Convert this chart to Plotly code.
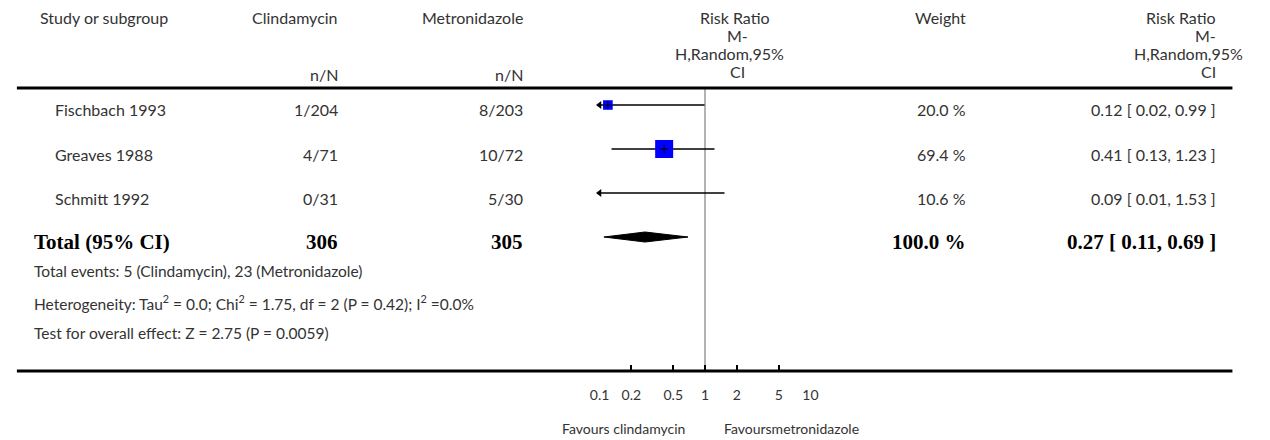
import math
import plotly.graph_objects as go

# ---------------- data ----------------
studies = ["Fischbach 1993", "Greaves 1988", "Schmitt 1992"]
clinda_nN = ["1/204", "4/71", "0/31"]
metro_nN = ["8/203", "10/72", "5/30"]
rr = [0.12, 0.41, 0.09]
rr_lo = [0.02, 0.13, 0.01]
rr_hi = [0.99, 1.23, 1.53]
weights = [20.0, 69.4, 10.6]
total_label = "Total (95% CI)"
total_clinda = "306"
total_metro = "305"
total_weight = 100.0
total_rr = 0.27
total_lo = 0.11
total_hi = 0.69
footnotes = [
    "Total events: 5 (Clindamycin), 23 (Metronidazole)",
    "Heterogeneity: Tau<sup>2</sup> = 0.0; Chi<sup>2</sup> = 1.75, df = 2 (P = 0.42); I<sup>2</sup> =0.0%",
    "Test for overall effect: Z = 2.75 (P = 0.0059)",
]
tick_vals = [0.1, 0.2, 0.5, 1, 2, 5, 10]
tick_text = ["0.1", "0.2", "0.5", "1", "2", "5", "10"]
axis_min, axis_max = 0.1, 10
favours_left = "Favours clindamycin"
favours_right = "Favoursmetronidazole"

# ---------------- layout constants ----------------
W, H = 1270, 440
TOP_RULE, BOT_RULE = 88, 371
ROW0, PITCH = 105, 44
SANS = "Lato"
SERIF = "Liberation Serif"
TXT = "#333333"


def py(px):
    return 1 - px / H


def px_x(px):
    return px / W


rows = list(range(len(studies)))
total_row = len(studies)
y_top = (TOP_RULE - ROW0) / PITCH
y_bot = (BOT_RULE - ROW0) / PITCH

fig = go.Figure()

# CI lines (clipped to axis by plot area)
lx, ly = [], []
for i in rows:
    lx += [rr_lo[i], rr_hi[i], None]
    ly += [i, i, None]
fig.add_trace(go.Scatter(x=lx, y=ly, mode="lines", line=dict(color="black", width=1.5),
                         hoverinfo="skip", showlegend=False))

# arrows where CI exceeds axis
ax_, ay_ = [], []
for i in rows:
    if rr_lo[i] < axis_min:
        ax_.append(axis_min)
        ay_.append(i)
fig.add_trace(go.Scatter(x=ax_, y=ay_, mode="markers", cliponaxis=False,
                         marker=dict(symbol="triangle-left", size=7, color="black"),
                         hoverinfo="skip", showlegend=False))

# weighted squares
fig.add_trace(go.Scatter(x=rr, y=rows, mode="markers",
                         marker=dict(symbol="square", color="#0000FF", opacity=1,
                                     size=[2.16 * math.sqrt(w) for w in weights],
                                     line=dict(width=0)),
                         hoverinfo="skip", showlegend=False))
fig.add_trace(go.Scatter(x=rr, y=rows, mode="markers",
                         marker=dict(symbol="cross-thin-open", size=6, color="black",
                                     line=dict(color="black", width=1)),
                         hoverinfo="skip", showlegend=False))

# pooled diamond
dh = 5 / PITCH
fig.add_trace(go.Scatter(x=[total_lo, total_rr, total_hi, total_rr, total_lo],
                         y=[total_row, total_row - dh, total_row, total_row + dh, total_row],
                         mode="lines", fill="toself", fillcolor="black",
                         line=dict(color="black", width=1),
                         hoverinfo="skip", showlegend=False))

annotations = []


def ann(text, x, y, xanchor="left", size=16, family=SANS, color=TXT, yref="paper",
        weight="normal"):
    annotations.append(dict(text=text, x=px_x(x), y=y, xref="paper", yref=yref,
                            xanchor=xanchor, yanchor="middle", showarrow=False,
                            font=dict(family=family, size=size, color=color, weight=weight)))


# header
ann("Study or subgroup", 28, py(18))
ann("Clindamycin", 335, py(18), "right")
ann("n/N", 335, py(75), "right")
ann("Metronidazole", 522, py(18), "right")
ann("n/N", 522, py(75), "right")
ann("Risk Ratio", 735, py(18), "center")
ann("M-", 738, py(35.5), "center")
ann("H,Random,95%", 730, py(53), "center")
ann("CI", 738, py(71), "center")
ann("Weight", 972, py(18), "right")
ann("Risk Ratio", 1225, py(18), "right")
ann("M-", 1225, py(35.5), "right")
ann("H,Random,95%", 1253, py(53), "right")
ann("CI", 1225, py(71), "right")

# study rows
toff = 5 / PITCH
for i in rows:
    ann(studies[i], 44, i + toff, yref="y")
    ann(clinda_nN[i], 335, i + toff, "right", yref="y")
    ann(metro_nN[i], 522, i + toff, "right", yref="y")
    ann(f"{weights[i]:.1f} %", 972, i + toff, "right", yref="y")
    ann(f"{rr[i]:.2f} [ {rr_lo[i]:.2f}, {rr_hi[i]:.2f} ]", 1225, i + toff, "right", yref="y")

# total row
bold = dict(size=21, family=SERIF, color="black", weight="bold")
ann(total_label, 22, total_row + toff, yref="y", **bold)
ann(total_clinda, 335, total_row + toff, "right", yref="y", **bold)
ann(total_metro, 522, total_row + toff, "right", yref="y", **bold)
ann(f"{total_weight:.1f} %", 972, total_row + toff, "right", yref="y", **bold)
ann(f"{total_rr:.2f} [ {total_lo:.2f}, {total_hi:.2f} ]", 1225, total_row + toff, "right",
    yref="y", **bold)

# footnotes
for k, t in enumerate(footnotes):
    ann(t, 22, py(271 + 31 * k), size=15.5)

# favours labels
ann(favours_left, 687, py(428), "right", size=14)
ann(favours_right, 722, py(428), "left", size=14)

shapes = [
    dict(type="line", xref="paper", yref="paper", x0=px_x(7), x1=px_x(1240),
         y0=py(TOP_RULE), y1=py(TOP_RULE), line=dict(color="black", width=3)),
    dict(type="line", xref="paper", yref="paper", x0=px_x(7), x1=px_x(1240),
         y0=py(BOT_RULE), y1=py(BOT_RULE), line=dict(color="black", width=3)),
    dict(type="line", xref="x", yref="y domain", x0=1, x1=1, y0=0, y1=1,
         line=dict(color="#999999", width=1.5), layer="below"),
]

fig.update_layout(
    width=W, height=H, margin=dict(l=0, r=0, t=0, b=0),
    paper_bgcolor="white", plot_bgcolor="white",
    showlegend=False,
    xaxis=dict(type="log", range=[math.log10(axis_min), math.log10(axis_max)],
               domain=[px_x(598), px_x(812)],
               tickvals=tick_vals, ticktext=tick_text,
               ticks="inside", ticklen=6, tickwidth=2, tickcolor="black",
               ticklabelstandoff=14,
               tickfont=dict(family=SANS, size=14, color=TXT),
               showgrid=False, zeroline=False, showline=False, fixedrange=True),
    yaxis=dict(range=[y_bot, y_top], domain=[py(BOT_RULE), py(TOP_RULE)],
               visible=False, fixedrange=True),
    annotations=annotations,
    shapes=shapes,
)

fig.write_html("out.html")
